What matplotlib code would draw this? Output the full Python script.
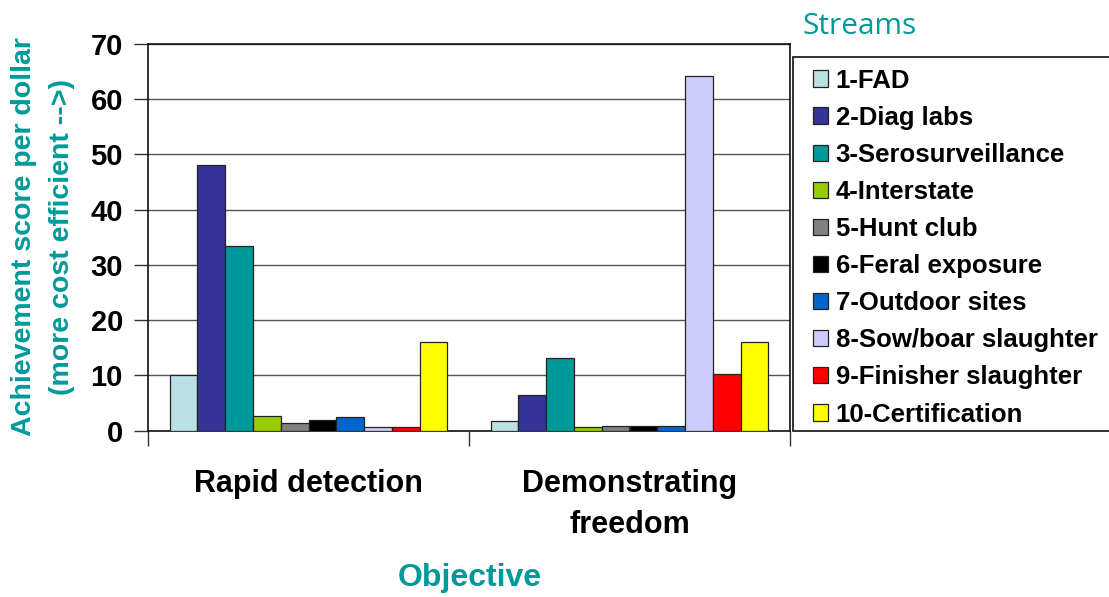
import matplotlib
matplotlib.use("Agg")
import matplotlib.pyplot as plt
from matplotlib.patches import Patch, Rectangle
import numpy as np

# Objectives (x categories) and surveillance streams (series)
objectives = ["Rapid detection", "Demonstrating\nfreedom"]
streams = ["1-FAD", "2-Diag labs", "3-Serosurveillance", "4-Interstate",
           "5-Hunt club", "6-Feral exposure", "7-Outdoor sites",
           "8-Sow/boar slaughter", "9-Finisher slaughter", "10-Certification"]

# Achievement score per dollar, one list per objective (order follows streams)
rapid_detection = [10.0, 48.1, 33.4, 2.7, 1.4, 1.9, 2.5, 0.6, 0.6, 16.0]
demonstrating_freedom = [1.8, 6.4, 13.1, 0.6, 0.9, 0.9, 0.8, 64.2, 10.2, 16.0]

colors = ["#BBE0E3", "#333399", "#009999", "#99CC00", "#808080",
          "#000000", "#0066CC", "#CCCCFF", "#FF0000", "#FFFF00"]

yticks = [0, 10, 20, 30, 40, 50, 60, 70]
teal = "#009999"

plt.rcParams["font.family"] = ["Liberation Sans", "DejaVu Sans"]

W, H = 1109, 597
fig = plt.figure(figsize=(W / 100, H / 100), dpi=100)
ax = fig.add_axes([148 / W, 1 - 430.5 / H, 642 / W, 386.5 / H])

values = np.array([rapid_detection, demonstrating_freedom])
x = np.arange(len(objectives))
n = len(streams)
width = 0.0866
for i, (name, col) in enumerate(zip(streams, colors)):
    ax.bar(x + (i - (n - 1) / 2) * width, values[:, i], width=width,
           color=col, edgecolor="#222222", linewidth=0.9, label=name, zorder=3)

ax.set_xlim(-0.5, 1.5)
ax.set_ylim(0, 70)
ax.set_yticks(yticks)
ax.set_yticklabels([str(t) for t in yticks], fontsize=21, fontweight="bold")
ax.yaxis.grid(True, color="#555555", linewidth=1.0, zorder=0)
ax.tick_params(axis="y", length=10, width=1, color="#333333", pad=8)

# Category labels centred under groups, tick marks at group boundaries
ax.set_xticks(x)
ax.set_xticklabels(objectives, fontsize=22, fontweight="bold", linespacing=1.45)
ax.tick_params(axis="x", which="major", length=0, pad=28)
ax.set_xticks([-0.5, 0.5, 1.5], minor=True)
ax.tick_params(axis="x", which="minor", length=11, width=1, color="#333333")

for side in ["left", "right", "top", "bottom"]:
    ax.spines[side].set_color("#111111")
    ax.spines[side].set_linewidth(1.2)

fig.text(43 / W, 1 - 237 / H,
         "Achievement score per dollar\n(more cost efficient -->)",
         rotation=90, ha="center", va="center", multialignment="center",
         fontsize=20.5, fontweight="bold", color=teal, linespacing=1.58)

fig.text(470 / W, 1 - 578 / H, "Objective", ha="center", va="center",
         fontsize=23, fontweight="bold", color=teal)

fig.text(803 / W, 1 - 34 / H, "Streams", ha="left", va="baseline",
         fontsize=21.5, color=teal, family=["Open Sans", "DejaVu Sans"])

# Legend box running off the right edge
fig.patches.append(Rectangle((793 / W, 1 - 431 / H), 330 / W, 374 / H,
                             transform=fig.transFigure, facecolor="white",
                             edgecolor="#111111", linewidth=1.2, zorder=1))

handles = [Patch(facecolor=c, edgecolor="#222222", linewidth=0.9) for c in colors]
leg = fig.legend(handles, streams, loc="upper left",
                 bbox_to_anchor=(801 / W, 1 - 57 / H),
                 prop={"size": 18.5, "weight": "bold"},
                 handlelength=0.6, handleheight=0.6, handletextpad=0.3,
                 labelspacing=0.51, borderpad=0.45, borderaxespad=0,
                 frameon=False)
leg.set_zorder(2)

fig.savefig("out.png", dpi=100)
